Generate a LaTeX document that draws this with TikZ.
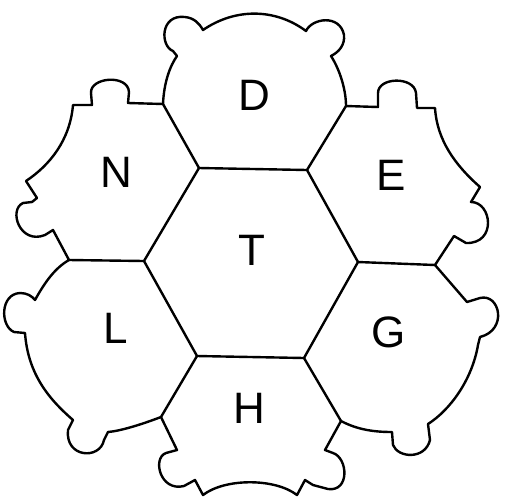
\documentclass[tikz,border=0pt]{standalone}
\usepackage{fontspec}
\setmainfont{Liberation Sans}

\begin{document}
\begin{tikzpicture}[x=1pt,y=-1pt,line width=2.4pt,line join=round,
  region/.style={font=\fontsize{44}{44}\selectfont}]
\useasboundingbox (0,0) rectangle (505,499);
\coordinate (t1) at (199,168); \coordinate (t2) at (307,170); \coordinate (t3) at (358,262);
\coordinate (t4) at (304,358); \coordinate (t5) at (197,356); \coordinate (t6) at (144,261);
\coordinate (o1) at (163,104); \coordinate (o2) at (346,106); \coordinate (o3) at (435,265);
\coordinate (o4) at (341,421); \coordinate (o5) at (161,417); \coordinate (o6) at (69,260);
\draw (t1) -- (t2) -- (t3) -- (t4) -- (t5) -- (t6) -- cycle;
\foreach \i in {1,...,6} \draw (t\i) -- (o\i);
\draw (o1) .. controls (164,82) and (170,66) .. (177,56) -- (173,51)
  .. controls (160,46) and (160,14) .. (185,17) .. controls (194,18) and (199,23) .. (203,30)
  .. controls (235,8) and (275,8) .. (306,31)
  .. controls (312,18) and (340,14) .. (344,35) .. controls (345,45) and (339,52) .. (331,56)
  .. controls (340,70) and (346,90) .. (o2)
  -- (378,107) -- (378,93) .. controls (378,77) and (414,76) .. (416,93) -- (417,108) -- (435,108)
  .. controls (437,140) and (455,165) .. (480,187) -- (471,202)
  .. controls (492,202) and (497,244) .. (466,243) -- (454,236) -- (o3)
  -- (467,302) -- (480,298) .. controls (500,293) and (508,330) .. (480,337) -- (478,345)
  .. controls (472,380) and (450,410) .. (428,424) -- (430,440)
  .. controls (425,460) and (398,458) .. (393,445) -- (392,432)
  .. controls (375,432) and (358,430) .. (o4)
  -- (325,450) -- (333,453) .. controls (348,458) and (350,492) .. (328,489) -- (313,485) -- (305,480)
  -- (297,495) .. controls (275,478) and (225,478) .. (203,495) -- (195,480) -- (184,486)
  .. controls (160,492) and (152,458) .. (166,453) -- (177,450) -- (o5)
  .. controls (140,425) and (120,431) .. (108,432) -- (104,440)
  .. controls (100,460) and (65,458) .. (68,430) -- (73,420)
  .. controls (50,400) and (28,375) .. (25,333) -- (14,332)
  .. controls (0,326) and (0,294) .. (20,293) .. controls (27,293) and (32,296) .. (35,300)
  .. controls (45,282) and (55,268) .. (o6)
  -- (53,230) -- (45,235) .. controls (20,245) and (8,210) .. (23,203) -- (32,202) -- (37,198)
  -- (26,181) .. controls (50,165) and (70,140) .. (73,105) -- (92,105) -- (91,93)
  .. controls (90,77) and (128,74) .. (129,92) -- (128,103) -- cycle;
\node[region] (D) at (254,95) {D};
\node[region] (E) at (391,175) {E};
\node[region] (G) at (389,332) {G};
\node[region] (H) at (249,408) {H};
\node[region] (L) at (116,328) {L};
\node[region] (N) at (116,172) {N};
\node[region] (T) at (252,250) {T};
\end{tikzpicture}
\end{document}
